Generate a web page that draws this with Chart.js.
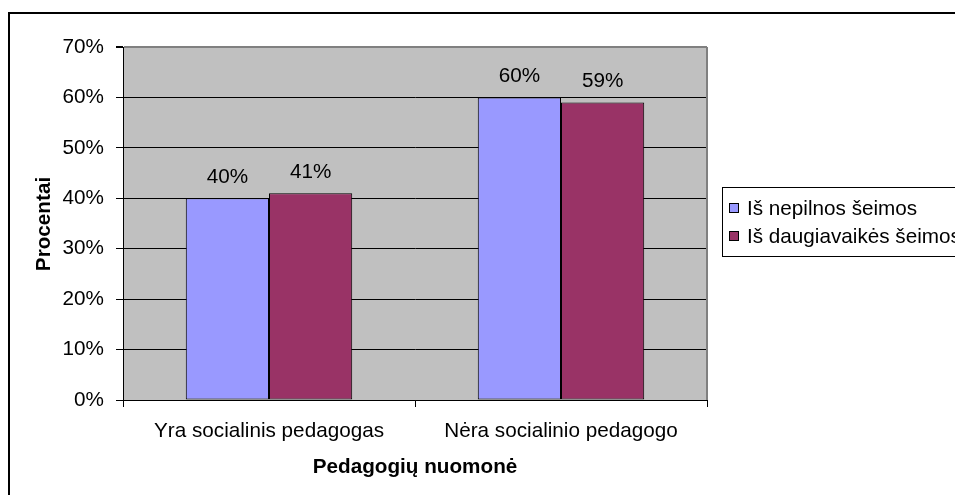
<!DOCTYPE html>
<html>
<head>
<meta charset="utf-8">
<script src="https://cdn.jsdelivr.net/npm/chart.js@4.4.0/dist/chart.umd.min.js"></script>
<style>
  html, body { margin: 0; padding: 0; background: #fff; }
  #wrap { width: 955px; height: 495px; }
</style>
</head>
<body>
<div id="wrap"><canvas id="myChart" width="955" height="495"></canvas></div>
<script>
var categories = ['Yra socialinis pedagogas', 'Nėra socialinio pedagogo'];
var seriesNames = ['Iš nepilnos šeimos', 'Iš daugiavaikės šeimos'];
var nepilnos = [40, 60];
var daugiavaikes = [41, 59];
var yTicks = [0, 10, 20, 30, 40, 50, 60, 70];
var colors = ['#9999FF', '#993366'];

var FONT = '"Liberation Sans", Arial, sans-serif';
var FS = 20.7;

// frame, plot border, value labels, titles and legend
var extras = {
    id: 'extras',
    beforeDraw: function (chart) {
        var ctx = chart.ctx;
        var a = chart.chartArea;
        ctx.save();
        ctx.fillStyle = '#fff';
        ctx.fillRect(0, 0, chart.width, chart.height);
        ctx.fillStyle = '#C0C0C0';
        ctx.fillRect(a.left, a.top, a.right - a.left, a.bottom - a.top);
        ctx.restore();
    },
    afterDraw: function (chart) {
        var ctx = chart.ctx;
        var a = chart.chartArea;
        ctx.save();
        // outer frame
        ctx.strokeStyle = '#000';
        ctx.lineWidth = 2;
        ctx.strokeRect(9, 13, 960, 500);
        // plot area right border
        ctx.strokeStyle = '#808080';
        ctx.lineWidth = 2;
        ctx.beginPath();
        ctx.moveTo(a.right, a.top);
        ctx.lineTo(a.right, a.bottom);
        ctx.stroke();

        // value labels
        ctx.fillStyle = '#000';
        ctx.font = FS + 'px ' + FONT;
        ctx.textAlign = 'center';
        ctx.textBaseline = 'alphabetic';
        chart.data.datasets.forEach(function (ds, i) {
            chart.getDatasetMeta(i).data.forEach(function (bar, j) {
                ctx.fillText(ds.data[j] + '%', bar.x, bar.y - 15);
            });
        });

        // axis titles
        ctx.font = 'bold ' + FS + 'px ' + FONT;
        ctx.textBaseline = 'middle';
        ctx.fillText('Pedagogių nuomonė', (a.left + a.right) / 2, 467);
        ctx.save();
        ctx.translate(44, 224);
        ctx.rotate(-Math.PI / 2);
        ctx.fillText('Procentai', 0, 0);
        ctx.restore();

        // legend
        ctx.strokeStyle = '#000';
        ctx.lineWidth = 1;
        ctx.strokeRect(722.5, 187.5, 300, 69);
        ctx.font = FS + 'px ' + FONT;
        ctx.textAlign = 'left';
        var rows = [208, 236];
        seriesNames.forEach(function (name, i) {
            ctx.fillStyle = colors[i];
            ctx.fillRect(729, rows[i] - 5, 10, 10);
            ctx.strokeRect(729.5, rows[i] - 4.5, 9, 9);
            ctx.fillStyle = '#000';
            ctx.fillText(name, 747, rows[i] + 1);
        });
        ctx.restore();
    }
};

var ctx = document.getElementById('myChart').getContext('2d');
var myChart = new Chart(ctx, {
    type: 'bar',
    data: {
        labels: categories,
        datasets: [
            {
                label: seriesNames[0],
                data: nepilnos,
                backgroundColor: colors[0],
                borderColor: '#000',
                borderWidth: 1,
                borderSkipped: false
            },
            {
                label: seriesNames[1],
                data: daugiavaikes,
                backgroundColor: colors[1],
                borderColor: '#000',
                borderWidth: 1,
                borderSkipped: false
            }
        ]
    },
    options: {
        responsive: false,
        animation: false,
        events: [],
        layout: { padding: { left: 0, top: 47, right: 248, bottom: 0 } },
        datasets: { bar: { categoryPercentage: 0.57, barPercentage: 1 } },
        plugins: {
            legend: { display: false },
            title: { display: false },
            tooltip: { enabled: false }
        },
        scales: {
            x: {
                afterFit: function (scale) { scale.height = 95; },
                grid: {
                    drawOnChartArea: false,
                    color: '#000',
                    tickLength: 7
                },
                border: { color: '#000', width: 1 },
                ticks: {
                    color: '#000',
                    padding: 12,
                    font: { family: FONT, size: FS }
                }
            },
            y: {
                min: 0,
                max: 70,
                afterFit: function (scale) { scale.width = 123; },
                afterBuildTicks: function (scale) {
                    scale.ticks = yTicks.map(function (v) { return { value: v }; });
                },
                grid: {
                    color: function (c) {
                        return c.tick && c.tick.value === 70 ? '#808080' : '#000';
                    },
                    lineWidth: function (c) {
                        return c.tick && c.tick.value === 70 ? 2 : 1;
                    },
                    tickColor: '#000',
                    tickLength: 7
                },
                border: { color: '#000', width: 1 },
                ticks: {
                    color: '#000',
                    padding: 12,
                    font: { family: FONT, size: FS },
                    callback: function (v) { return v + '%'; }
                }
            }
        }
    },
    plugins: [extras]
});
</script>
</body>
</html>
